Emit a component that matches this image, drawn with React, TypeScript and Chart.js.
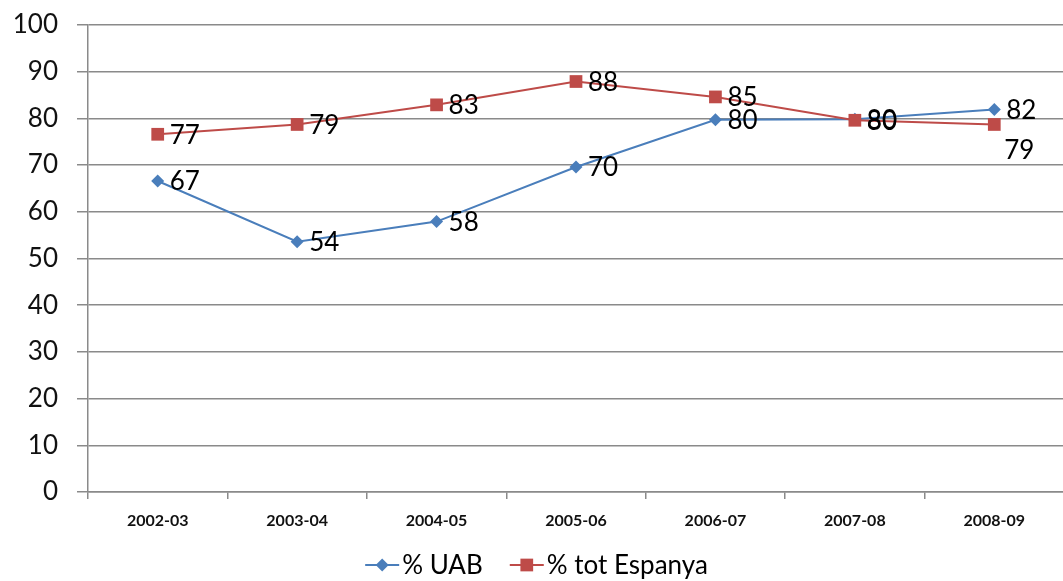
import React, { useEffect, useRef } from "react";
import { Chart, registerables } from "chart.js";

Chart.register(...registerables);

const categories = ["2002-03", "2003-04", "2004-05", "2005-06", "2006-07", "2007-08", "2008-09"];
const uabValues = [66.6, 53.6, 57.9, 69.6, 79.7, 79.8, 81.9];
const espanyaValues = [76.6, 78.7, 82.9, 87.9, 84.6, 79.6, 78.7];
const seriesNames = ["% UAB", "% tot Espanya"];
const yMin = 0;
const yMax = 100;
const yStep = 10;

const FONT = 'Lato, "Open Sans", "DejaVu Sans", sans-serif';
const BLUE = "#4A7EBB";
const RED = "#BE4B48";
const GRID = "#8a8a8a";

const dataLabelPlugin = {
  id: "dataLabels",
  afterDatasetsDraw(chart: any) {
    const ctx = chart.ctx;
    const ds = chart.data.datasets;
    ctx.save();
    ctx.font = `26px ${FONT}`;
    ctx.fillStyle = "#000";
    ctx.textBaseline = "middle";
    ctx.textAlign = "left";
    ds.forEach((d: any, di: number) => {
      const meta = chart.getDatasetMeta(di);
      meta.data.forEach((pt: any, i: number) => {
        const v = d.data[i] as number;
        const other = ds[1 - di].data[i] as number;
        let dx = 12;
        let dy = 1;
        if (v < other && other - v < 4 && Math.round(v) !== Math.round(other)) {
          dx = 10;
          dy = 26;
        }
        ctx.fillText(String(Math.round(v)), pt.x + dx, pt.y + dy);
      });
    });
    ctx.restore();
  },
};

function drawMarker(ctx: CanvasRenderingContext2D, style: string, x: number, y: number, r: number) {
  ctx.beginPath();
  if (style === "rectRot") {
    ctx.moveTo(x - r, y);
    ctx.lineTo(x, y - r);
    ctx.lineTo(x + r, y);
    ctx.lineTo(x, y + r);
    ctx.closePath();
  } else {
    const s = r * Math.SQRT1_2;
    ctx.rect(x - s, y - s, 2 * s, 2 * s);
  }
  ctx.fill();
}

const legendPlugin = {
  id: "customLegend",
  afterDraw(chart: any) {
    const ctx = chart.ctx as CanvasRenderingContext2D;
    ctx.save();
    ctx.font = `26px ${FONT}`;
    ctx.textBaseline = "middle";
    ctx.textAlign = "left";
    const y = chart.height - 16;
    const lineLen = 34;
    const gapText = 3;
    const gapItem = 27;
    const items = chart.data.datasets.map((d: any) => ({
      label: d.label,
      color: d.borderColor,
      style: d.pointStyle,
      r: d.pointRadius,
      w: ctx.measureText(d.label).width,
    }));
    const total =
      items.reduce((s: number, it: any) => s + lineLen + gapText + it.w, 0) + gapItem * (items.length - 1);
    let x = (chart.width - total) / 2;
    items.forEach((it: any) => {
      ctx.strokeStyle = it.color;
      ctx.lineWidth = 2;
      ctx.beginPath();
      ctx.moveTo(x, y);
      ctx.lineTo(x + lineLen, y);
      ctx.stroke();
      ctx.fillStyle = it.color;
      drawMarker(ctx, it.style, x + lineLen / 2, y, it.r);
      ctx.fillStyle = "#000";
      ctx.fillText(it.label, x + lineLen + gapText, y + 1);
      x += lineLen + gapText + it.w + gapItem;
    });
    ctx.restore();
  },
};

export default function App() {
  const canvasRef = useRef<HTMLCanvasElement | null>(null);

  useEffect(() => {
    if (!canvasRef.current) return;
    const chart = new Chart(canvasRef.current, {
      type: "line",
      data: {
        labels: categories,
        datasets: [
          {
            label: seriesNames[0],
            data: uabValues,
            borderColor: BLUE,
            backgroundColor: BLUE,
            borderWidth: 2,
            pointStyle: "rectRot",
            pointRadius: 6.5,
            pointBorderWidth: 0,
            pointBackgroundColor: BLUE,
            tension: 0,
            order: 1,
          },
          {
            label: seriesNames[1],
            data: espanyaValues,
            borderColor: RED,
            backgroundColor: RED,
            borderWidth: 2,
            pointStyle: "rect",
            pointRadius: 9,
            pointBorderWidth: 0,
            pointBackgroundColor: RED,
            tension: 0,
            order: 0,
          },
        ],
      },
      options: {
        responsive: false,
        animation: false,
        layout: { padding: { top: 25, left: 0, right: 0, bottom: 0 } },
        plugins: {
          legend: { display: false },
          tooltip: { enabled: false },
        },
        scales: {
          x: {
            offset: true,
            grid: {
              offset: true,
              drawOnChartArea: false,
              drawTicks: true,
              tickLength: 7,
              color: GRID,
              lineWidth: 1.5,
            },
            border: { display: true, color: GRID, width: 1.5 },
            ticks: {
              color: "#111",
              font: { family: FONT, size: 16, weight: "bold" },
              padding: 12,
              maxRotation: 0,
              autoSkip: false,
            },
            afterFit: (s: any) => {
              s.height = 89;
              s.paddingLeft = 0;
              s.paddingRight = 0;
            },
          },
          y: {
            min: yMin,
            max: yMax,
            ticks: {
              stepSize: yStep,
              color: "#111",
              font: { family: FONT, size: 26 },
              padding: 19,
            },
            grid: {
              color: GRID,
              lineWidth: 1.5,
              tickLength: 11,
              drawTicks: true,
            },
            border: { display: true, color: GRID, width: 1.5 },
            afterFit: (s: any) => {
              s.width = 88;
              s.paddingTop = 0;
              s.paddingBottom = 0;
            },
          },
        },
      },
      plugins: [dataLabelPlugin, legendPlugin],
    });
    return () => chart.destroy();
  }, []);

  return (
    <div style={{ position: "fixed", left: 0, top: 0, width: 1073, height: 581, background: "#fff" }}>
      <canvas ref={canvasRef} width={1073} height={581} />
    </div>
  );
}
